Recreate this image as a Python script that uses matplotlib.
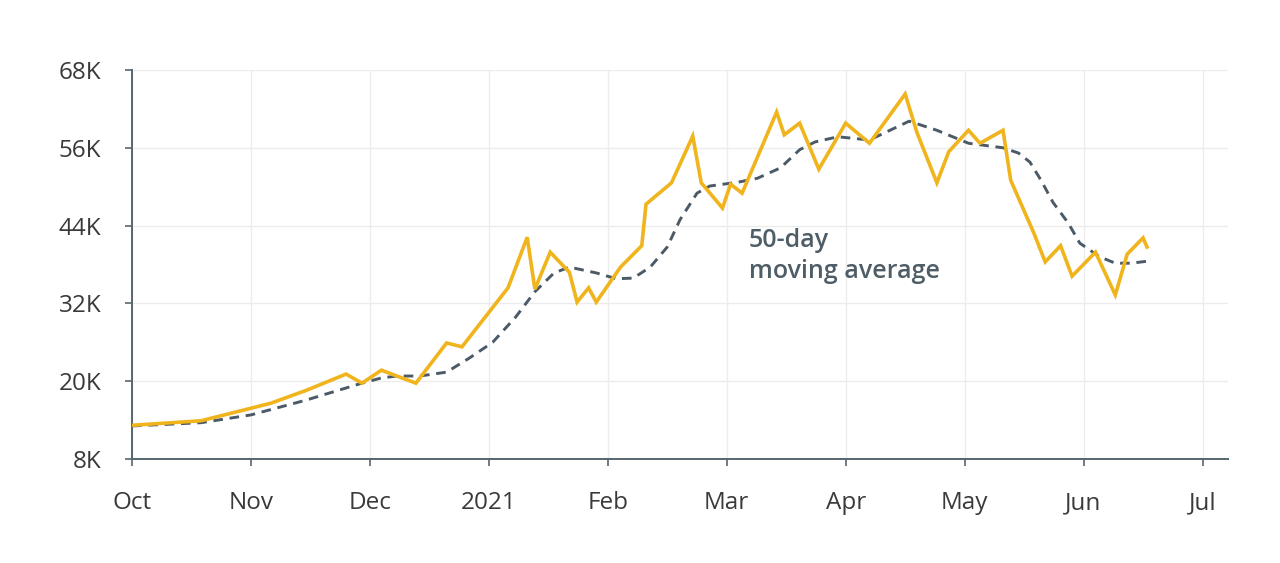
import pandas as pd
import matplotlib
matplotlib.use("Agg")
from matplotlib import pyplot as plt
from matplotlib.ticker import FuncFormatter

plt.rcParams['font.family'] = ['Open Sans', 'DejaVu Sans']

# Daily cases (yellow line)
case_dates = ["2020-10-01", "2020-10-19", "2020-11-06", "2020-11-15", "2020-11-25",
              "2020-11-29", "2020-12-04", "2020-12-13", "2020-12-21", "2020-12-25",
              "2021-01-06", "2021-01-11", "2021-01-13", "2021-01-17", "2021-01-22",
              "2021-01-24", "2021-01-27", "2021-01-29", "2021-02-04", "2021-02-09",
              "2021-02-10", "2021-02-16", "2021-02-21", "2021-02-23", "2021-02-28",
              "2021-03-02", "2021-03-05", "2021-03-14", "2021-03-16", "2021-03-20",
              "2021-03-25", "2021-04-01", "2021-04-07", "2021-04-16", "2021-04-19",
              "2021-04-24", "2021-04-27", "2021-05-02", "2021-05-05", "2021-05-11",
              "2021-05-13", "2021-05-19", "2021-05-22", "2021-05-26", "2021-05-29",
              "2021-06-04", "2021-06-09", "2021-06-12", "2021-06-16", "2021-06-17"]
case_values = [13200, 13900, 16600, 18600, 21100,
               19700, 21700, 19700, 25900, 25300,
               34400, 42200, 34200, 39900, 36800,
               32200, 34400, 32200, 37600, 40900,
               47300, 50600, 57800, 50600, 46700,
               50400, 49000, 61500, 58000, 59800,
               52700, 59800, 56700, 64300, 58300,
               50600, 55400, 58700, 56700, 58700,
               51000, 42900, 38400, 40900, 36200,
               39900, 33300, 39600, 42100, 40700]

# 50-day moving average (dashed line)
avg_dates = ["2020-10-01", "2020-10-19", "2020-11-01", "2020-11-15", "2020-11-29",
             "2020-12-04", "2020-12-08", "2020-12-14", "2020-12-21", "2020-12-27",
             "2021-01-02", "2021-01-08", "2021-01-13", "2021-01-18", "2021-01-22",
             "2021-01-29", "2021-02-03", "2021-02-07", "2021-02-11", "2021-02-15",
             "2021-02-18", "2021-02-22", "2021-02-25", "2021-03-04", "2021-03-09",
             "2021-03-15", "2021-03-20", "2021-03-24", "2021-03-30", "2021-04-07",
             "2021-04-17", "2021-04-24", "2021-05-02", "2021-05-11", "2021-05-15",
             "2021-05-18", "2021-05-21", "2021-05-24", "2021-05-28", "2021-05-31",
             "2021-06-05", "2021-06-09", "2021-06-13", "2021-06-17"]
avg_values = [13100, 13600, 14800, 17100, 19700,
              20500, 20800, 20800, 21400, 23600,
              26000, 29900, 33800, 36700, 37600,
              36700, 35800, 35900, 37600, 40700,
              44900, 49000, 50100, 50700, 51300,
              52900, 55700, 56900, 57700, 57200,
              60100, 58700, 56700, 56000, 55200,
              53800, 50900, 47600, 44400, 41300,
              39200, 38200, 38200, 38500]

month_labels = ["Oct", "Nov", "Dec", "2021", "Feb", "Mar", "Apr", "May", "Jun", "Jul"]
y_ticks = [8000, 20000, 32000, 44000, 56000, 68000]


def month_pos(s):
    # each month gets the same width on the axis
    d = pd.Timestamp(s)
    return (d.year - 2020) * 12 + d.month - 10 + (d.day - 1) / d.days_in_month


axis_col = '#56666e'
text_col = '#3a3a3a'

fig = plt.figure(figsize=(12.8, 5.63), dpi=100)
ax = fig.add_axes([0.1031, 0.1847, 0.8559, 0.691])

ax.plot([month_pos(d) for d in case_dates], case_values, color='#f0b41c', lw=2.6,
        solid_joinstyle='miter', zorder=3)
ma, = ax.plot([month_pos(d) for d in avg_dates], avg_values, color='#4b5a66', lw=2.1, zorder=2)
ma.set_dashes((3.3, 2.3))

ax.set_xlim(0, 9.21)
ax.set_ylim(8000, 68000)
ax.set_xticks(range(len(month_labels)))
ax.set_xticklabels(month_labels)
ax.set_yticks(y_ticks)
ax.yaxis.set_major_formatter(FuncFormatter(lambda v, p: f"{int(v / 1000)}K"))

ax.grid(True, color='#ececec', lw=1)
ax.set_axisbelow(True)
for s in ['top', 'right']:
    ax.spines[s].set_visible(False)
for s in ['left', 'bottom']:
    ax.spines[s].set_color(axis_col)
    ax.spines[s].set_linewidth(1.4)
ax.tick_params(axis='both', length=5, width=1.2, color=axis_col, labelsize=17.5,
               labelcolor=text_col)
ax.tick_params(axis='x', pad=18)
ax.tick_params(axis='y', pad=17)

ax.text(0.563, 0.522, "50-day\nmoving average", transform=ax.transAxes, fontsize=18,
        fontweight='semibold', color='#4f5d66', ha='left', va='center', linespacing=1.35)

fig.savefig('out.png', dpi=100, facecolor='white')
